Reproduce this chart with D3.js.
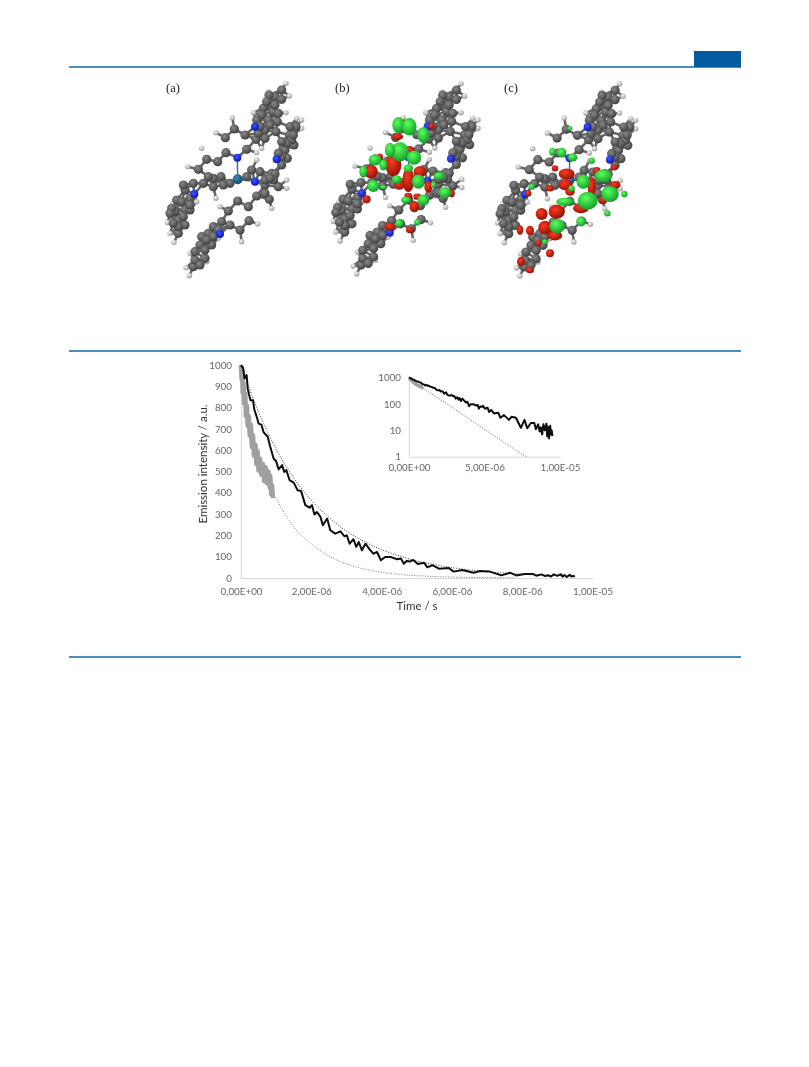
<!DOCTYPE html>
<html><head><meta charset="utf-8">
<script src="https://cdn.jsdelivr.net/npm/d3@7/dist/d3.min.js"></script>
<style>html,body{margin:0;padding:0;background:#fff}svg{display:block}text{font-family:Lato,"Open Sans",sans-serif}</style>
</head><body><div id="c"></div>
<script>
// Decay data (time in microseconds, intensity in a.u.)
const blackT=[0,.03,.06,.1,.13,.16,.19,.23,.27,.34,.38,.46,.5,.58,.64,.76,.82,.93,1,1.07,1.17,1.23,1.29,1.38,1.5,1.61,1.71,1.83,1.95,2.02,2.09,2.16,2.26,2.33,2.45,2.54,2.68,2.83,2.94,3.01,3.09,3.2,3.28,3.35,3.44,3.54,3.68,3.77,3.87,3.98,4.1,4.25,4.44,4.55,4.63,4.71,4.82,4.9,5.03,5.21,5.3,5.44,5.63,5.91,6.05,6.29,6.62,6.8,7.08,7.41,7.65,7.83,8.07,8.3,8.4,8.55,8.65,8.73,8.82,8.9,9,9.1,9.15,9.2,9.27,9.35,9.4,9.45,9.5];
const blackV=[1000,992,987,937,945,953,890,860,835,835,790,750,725,720,685,663,623,560,548,510,530,498,507,460,448,412,408,342,330,342,298,310,287,248,279,224,208,219,196,200,161,182,146,169,130,161,130,114,122,83,99,99,88,92,67,80,78,85,66,72,50,60,44,47,30,38,25,33,30,12.5,25,12,19,19,11,17,9,13,7,17,10,18,6,14,5,15,7,10,6];
const grayT=[0,.02,.03,.05,.07,.09,.12,.14,.17,.19,.22,.25,.28,.31,.34,.37,.41,.44,.47,.5,.54,.58,.62,.66,.7,.74,.78,.82,.83,.86,.88,.91];
const grayV=[1000,930,980,870,915,820,865,760,810,715,760,670,720,615,670,575,625,535,595,505,560,485,535,455,520,445,500,425,480,395,435,375];
const fitBlackT=[0,.5,1,1.5,2,2.5,3,3.5,4,4.5,5,5.5,6,6.5,7,7.5,8,8.5,9,9.5];
const fitBlackV=[1000,780,605,470,365,285,220,172,133,104,80,63,49,38,29,23,18,14,11,8.5];
const fitGrayT=[0,.25,.5,.75,1,1.25,1.5,1.75,2,2.5,3,3.5,4,4.5,5,5.5,6,6.5,7,7.5,7.8];
const fitGrayV=[1000,730,560,450,375,300,240,195,160,103,66,42,27,17,11,7,4.5,2.9,1.9,1.25,1];
const yTicks=[0,100,200,300,400,500,600,700,800,900,1000];
const xTicks=[0,2,4,6,8,10];
const xTickLabels=["0,00E+00","2,00E-06","4,00E-06","6,00E-06","8,00E-06","1,00E-05"];
const insetYTicks=[1,10,100,1000];
const insetXTicks=[0,5,10];
const insetXLabels=["0,00E+00","5,00E-06","1,00E-05"];
const panelLabels=["(a)","(b)","(c)"];
// Molecule atoms [x,y] in the units of panel (a)
const carbon=[[395,60],[375,80],[357,75],[395,88],[360,105],[340,115],[368,125],[335,135],[382,155],[355,150],[378,185],[345,180],[345,205],[318,208],[325,190],[285,195],[253,177],[226,203],[228,248],[290,238],[438,170],[418,195],[432,225],[405,240],[412,265],[395,285],[365,310],[213,320],[203,275],[170,268],[145,298],[160,340],[190,350],[130,340],[105,360],[120,385],[80,390],[75,425],[105,420],[120,420],[85,450],[105,465],[85,490],[330,305],[375,312],[385,350],[320,378],[358,388],[345,345],[263,393],[295,410],[235,423],[297,452],[240,465],[270,480],[190,470],[215,455],[155,500],[185,525],[150,525],[165,565],[130,590],[135,570],
[375,105],[385,130],[350,95],[320,150],[360,165],[330,170],[420,170],[425,210],[410,220],[395,260],[430,195],[385,250],[395,215],[370,330],[240,340],[220,345],[190,325],[175,320],[345,330],[305,300],[290,320],[345,370],[360,325],[100,345],[95,395],[65,415],[60,430],[120,405],[85,470],[100,440],[70,460],[205,480],[175,490],[170,510],[190,500],[135,545],[165,540],[150,585]];
const hydrogen=[[408,40],[355,65],[418,78],[310,128],[408,128],[247,143],[198,188],[335,235],[320,248],[155,235],[113,290],[455,150],[440,145],[455,175],[320,270],[410,330],[410,355],[365,415],[210,410],[323,462],[275,515],[198,385],[140,395],[68,400],[53,458],[60,490],[72,517],[120,550],[170,575],[108,593],[118,617],[205,505]];
const nitrogen=[[315,170],[262,263],[380,268],[315,335],[133,372],[210,492]];
const metal=[[263,328]];
// Orbital lobes [x,y,rx,ry] in the units of each panel's crop
const greenB=[[205,165,15,20],[238,170,18,22],[280,195,15,20],[210,245,22,24],[180,240,13,18],[252,263,18,18],[135,270,16,14],[160,285,10,14],[130,348,15,15],[100,305,10,15],[200,328,12,10],[265,335,16,18],[327,318,14,10],[345,368,15,14],[280,390,15,14],[235,295,12,10],[228,390,12,8],[208,460,10,10],[262,457,8,8],[310,345,6,8],[160,352,8,5]];
const redB=[[203,200,14,8],[222,165,8,14],[190,285,20,28],[235,330,15,30],[123,305,17,17],[270,305,16,14],[238,240,14,10],[208,345,13,12],[253,410,12,14],[240,480,10,8],[195,240,12,14],[150,265,8,12],[305,168,8,8],[295,350,10,15],[235,378,10,8],[110,388,10,10],[180,470,14,10],[365,370,8,10],[262,380,10,8]];
const greenC=[[265,335,17,18],[325,318,22,16],[345,372,22,20],[278,392,25,22],[187,468,20,18],[210,395,22,10],[258,455,12,12],[200,248,12,12],[233,262,12,10],[172,245,8,10],[225,175,6,6],[150,515,8,6],[388,372,8,8],[337,430,8,8],[290,272,8,8],[110,350,8,8],[230,355,8,8]];
const redC=[[215,312,20,14],[212,345,18,13],[140,432,15,15],[150,473,17,17],[185,425,20,18],[180,497,18,12],[290,350,10,25],[258,415,20,12],[225,365,12,10],[75,480,8,12],[105,482,10,12],[165,550,10,10],[105,600,10,8],[78,575,10,12],[305,303,10,10],[360,345,14,10],[180,295,8,8],[130,520,8,8],[165,355,10,8],[358,292,8,8],[325,390,10,10],[100,370,8,8]];

const W=809,H=1067;
const svg=d3.select("#c").append("svg").attr("width",W).attr("height",H);
const defs=svg.append("defs");
const blur=(id,s)=>defs.append("filter").attr("id",id).attr("x","-5%").attr("y","-5%").attr("width","110%").attr("height","110%").append("feGaussianBlur").attr("stdDeviation",s);
blur("soft",.4);blur("softer",.6);
const grad=(id,a,b)=>{const g=defs.append("radialGradient").attr("id",id).attr("cx","40%").attr("cy","35%").attr("r","70%");g.append("stop").attr("offset","0%").attr("stop-color",a);g.append("stop").attr("offset","100%").attr("stop-color",b);};
grad("gC","#8a8a8a","#3a3a3a");grad("gH","#f6f6f6","#949494");grad("gN","#3a55ff","#0a14a8");grad("gM","#3a8ab8","#0f4466");grad("gG","#5cff5c","#0f9a28");grad("gR","#ff3a20","#8c1008");

// Rules and header block
const blue="#1268a8";
[67,351,657].forEach(y=>svg.append("line").attr("x1",69).attr("x2",741).attr("y1",y).attr("y2",y).attr("stroke",blue).attr("stroke-width",1.5));
svg.append("rect").attr("x",694).attr("y",51).attr("width",47).attr("height",16).attr("fill","#035c9f");

// Molecule panels
const LOBE=1.2;
function panel(ox,x0,kx,y0,ky,green,red){
  const g=svg.append("g").attr("filter","url(#softer)");
  const px=d3.scaleLinear().domain([118,408]).range([ox+x0/3,ox+(x0+kx*290)/3]);
  const py=d3.scaleLinear().domain([617,40]).range([70+y0/3,70+(y0-ky*577)/3]);
  const all=[...carbon.map(d=>[...d,"C"]),...nitrogen.map(d=>[...d,"N"]),...hydrogen.map(d=>[...d,"H"])];
  const bonds=[];
  all.forEach((a,i)=>all.forEach((b,j)=>{if(j<=i)return;const dd=Math.hypot(a[0]-b[0],a[1]-b[1]);const lim=(a[2]==="H"||b[2]==="H")?36:42;if(dd<lim&&!(a[2]==="H"&&b[2]==="H"))bonds.push([a,b]);}));
  g.selectAll("line.b").data(bonds).join("line").attr("x1",d=>px(d[0][0])).attr("y1",d=>py(d[0][1])).attr("x2",d=>px(d[1][0])).attr("y2",d=>py(d[1][1])).attr("stroke","#666").attr("stroke-width",2.6);
  nitrogen.forEach(n=>{const m=metal[0];if(Math.hypot(n[0]-m[0],n[1]-m[1])<90)g.append("line").attr("x1",px(n[0])).attr("y1",py(n[1])).attr("x2",px(m[0])).attr("y2",py(m[1])).attr("stroke","#2f6f9a").attr("stroke-width",1.4);});
  const atoms=(arr,r,f)=>g.append("g").selectAll("circle").data(arr).join("circle").attr("cx",d=>px(d[0])).attr("cy",d=>py(d[1])).attr("r",r).attr("fill",`url(#${f})`);
  atoms(hydrogen,2.7,"gH");atoms(carbon,4.6,"gC");atoms(nitrogen,4,"gN");atoms(metal,5,"gM");
  const lobes=(arr,f)=>g.append("g").selectAll("ellipse").data(arr).join("ellipse").attr("cx",d=>ox+d[0]/3).attr("cy",d=>70+d[1]/3).attr("rx",d=>LOBE*d[2]/3).attr("ry",d=>LOBE*d[3]/3).attr("fill",`url(#${f})`);
  lobes(red,"gR");lobes(green,"gG");
}
panel(150,118,1,617,1,[],[]);
panel(330,80,1.08,612,.99,greenB,redB);
panel(495,75,1.03,618,1,greenC,redC);
svg.append("g").attr("filter","url(#soft)").selectAll("text").data(panelLabels).join("text").attr("x",(d,i)=>[166,335,504][i]).attr("y",92).text(d=>d).style("font-family","'Liberation Serif',serif").attr("font-size",12.5).attr("fill","#222");

// Main chart
const tick="#666",axisCol="#d9d9d9";
const x=d3.scaleLinear().domain([0,10]).range([241,592.5]);
const y=d3.scaleLinear().domain([0,1000]).range([578,365]);
const lineFn=(xs,ys)=>d3.line().x(d=>xs(d[0])).y(d=>ys(d[1]));
const smoothFn=(xs,ys)=>lineFn(xs,ys).curve(d3.curveMonotoneX);
const zip=(a,b)=>a.map((t,i)=>[t,b[i]]);
const chart=svg.append("g").attr("filter","url(#soft)");
function axes(xs,ys,yt,xt,xl,xLabelY,yLabelX,fs,base){
  const ax=d3.axisBottom(xs).tickValues(xt).tickSize(0).tickFormat((d,i)=>xl[i]);
  const gx=chart.append("g").attr("transform",`translate(0,${base})`).call(ax);
  gx.select(".domain").attr("stroke",axisCol);
  gx.selectAll("text").attr("y",xLabelY-base).attr("dy",0).attr("font-size",fs).attr("fill",tick).style("font-family","Lato");
  const ay=d3.axisLeft(ys).tickValues(yt).tickSize(0).tickFormat(d=>d);
  const gy=chart.append("g").attr("transform",`translate(${xs.range()[0]},0)`).call(ay);
  gy.select(".domain").attr("stroke",axisCol);
  gy.selectAll("text").attr("x",yLabelX-xs.range()[0]).attr("font-size",fs).attr("fill",tick).style("font-family","Lato");
}
axes(x,y,yTicks,xTicks,xTickLabels,595,232,9.8,578);
const path=(g,pts,col,w,dash)=>g.append("path").attr("d",pts).attr("fill","none").attr("stroke",col).attr("stroke-width",w).attr("stroke-linejoin","round").attr("stroke-dasharray",dash||null);
path(chart,smoothFn(x,y)(zip(fitGrayT,fitGrayV)),"#777",1,"1 1.6");
path(chart,lineFn(x,y)(zip(grayT,grayV)),"#a0a0a0",4.6);
path(chart,smoothFn(x,y)(zip(fitBlackT,fitBlackV)),"#333",1,"1 1.6");
path(chart,lineFn(x,y)(zip(blackT,blackV)),"#111",2);
chart.append("text").attr("x",417).attr("y",610).attr("text-anchor","middle").attr("font-size",11.5).attr("fill","#333").text("Time / s");
chart.append("text").attr("transform","translate(207,464) rotate(-90)").attr("text-anchor","middle").attr("font-size",11.5).attr("fill","#333").text("Emission intensity / a.u.");

// Inset
const ix=d3.scaleLinear().domain([0,10]).range([409,560]);
const iy=d3.scaleLog().domain([1,1000]).range([456.7,377.7]);
axes(ix,iy,insetYTicks,insetXTicks,insetXLabels,471,401,9.8,456.7);
path(chart,smoothFn(ix,iy)(zip(fitGrayT,fitGrayV)),"#666",1,"1 1.6");
path(chart,lineFn(ix,iy)(zip(grayT,grayV)),"#a0a0a0",2.4);
path(chart,lineFn(ix,iy)(zip(blackT,blackV)),"#111",2);
</script></body></html>
